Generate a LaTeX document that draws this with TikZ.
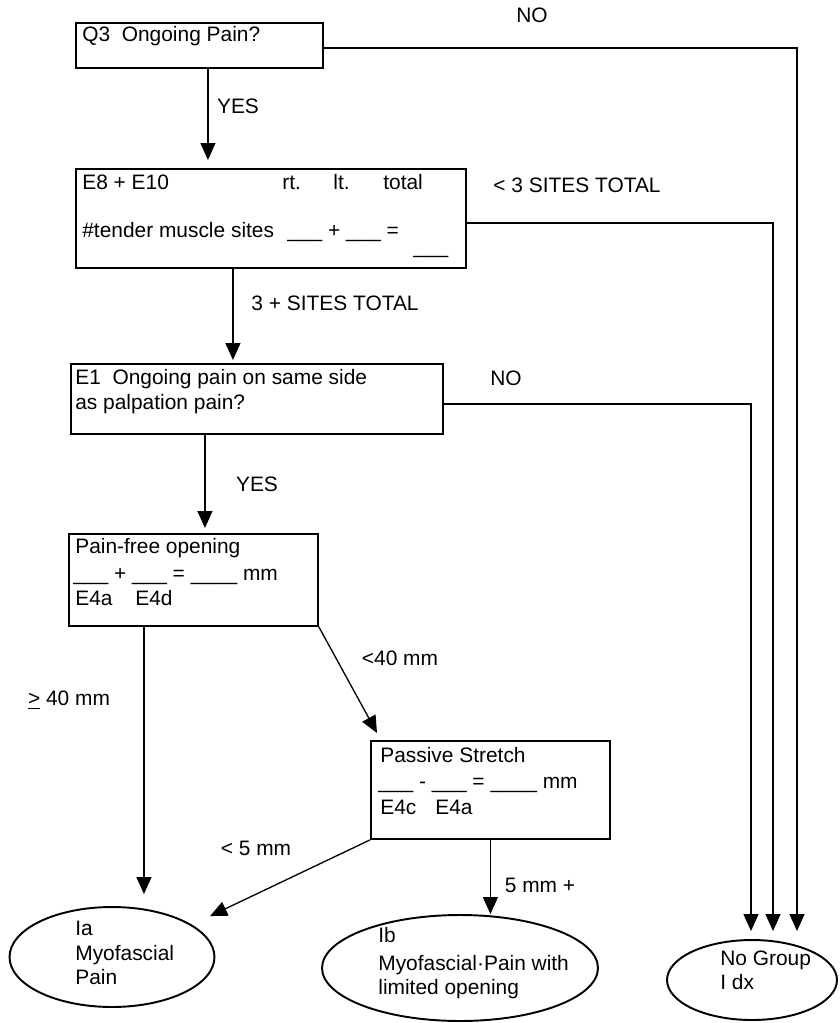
\documentclass[tikz,border=0pt]{standalone}
\usepackage{fontspec}
\setmainfont{Liberation Sans}
\usetikzlibrary{arrows.meta,shapes.geometric}

\begin{document}
\begin{tikzpicture}[x=0.02cm, y=-0.02cm, >={Triangle[length=0.34cm,width=0.3cm]},
  every node/.style={font=\fontsize{11.9}{14}\selectfont, inner sep=0pt},
  box/.style={draw, line width=1.1pt, anchor=north west},
  oval/.style={draw, ellipse, line width=1.1pt},
  flow/.style={->, line width=0.75pt},
  txt/.style={anchor=base west}]
  \useasboundingbox (0,0) rectangle (839,1023);

  \node[box, minimum width=4.94cm, minimum height=0.9cm] (q3) at (75,22) {};
  \node[box, minimum width=7.8cm, minimum height=1.98cm] (e8) at (75,168) {};
  \node[box, minimum width=7.44cm, minimum height=1.4cm] (e1) at (70,363) {};
  \node[box, minimum width=4.98cm, minimum height=1.84cm] (pf) at (68,533) {};
  \node[box, minimum width=4.78cm, minimum height=1.96cm] (ps) at (370,740) {};
  \node[oval, minimum width=4.1cm, minimum height=2cm] (ia) at (112,957) {};
  \node[oval, minimum width=5.52cm, minimum height=2.12cm] (ib) at (460,968) {};
  \node[oval, minimum width=3.4cm, minimum height=1.6cm] (nog) at (752,980) {};

  \node[txt] (q3t) at (82,42) {Q3\ \ Ongoing Pain?};
  \node[txt] (e8a) at (82,190) {E8 + E10};
  \node[txt] (e8rt) at (282,190) {rt.};
  \node[txt] (e8lt) at (333,190) {lt.};
  \node[txt] (e8tot) at (383,190) {total};
  \node[txt] (e8b) at (82,238) {\#tender muscle sites};
  \node[txt] (e8sum) at (287,238) {\_\_\_ + \_\_\_ =};
  \node[txt] (e8res) at (413,254) {\_\_\_};
  \node[txt] (e1a) at (75,384) {E1\ \ Ongoing pain on same side};
  \node[txt] (e1b) at (75,409) {as palpation pain?};
  \node[txt] (pfa) at (75,553) {Pain-free opening};
  \node[txt] (pfb) at (73,580) {\_\_\_ + \_\_\_ = \_\_\_\_ mm};
  \node[txt] (pfc) at (75,605) {E4a};
  \node[txt] (pfd) at (135,605) {E4d};
  \node[txt] (psa) at (380,762) {Passive Stretch};
  \node[txt] (psb) at (378,788) {\_\_\_ - \_\_\_ = \_\_\_\_ mm};
  \node[txt] (psc) at (380,814) {E4c};
  \node[txt] (psd) at (435,814) {E4a};
  \node[txt] (iaa) at (75,935) {Ia};
  \node[txt] (iab) at (75,960) {Myofascial};
  \node[txt] (iac) at (75,984) {Pain};
  \node[txt] (iba) at (378,942) {Ib};
  \node[txt] (ibb) at (378,970) {Myofascial·Pain with};
  \node[txt] (ibc) at (378,994) {limited opening};
  \node[txt] (noa) at (720,965) {No Group};
  \node[txt] (nob) at (720,989) {I dx};

  \node (no1) at (532,15) {NO};
  \node (yes1) at (238,106) {YES};
  \node (few) at (577,185) {< 3 SITES TOTAL};
  \node (many) at (335,303) {3 + SITES TOTAL};
  \node (no2) at (506,378) {NO};
  \node (yes2) at (257,484) {YES};
  \node (lt40) at (400,658) {<40 mm};
  \node (ge40) at (69,700) {\underline{>} 40 mm};
  \node (lt5) at (256,848) {< 5 mm};
  \node (ge5) at (540,885) {5 mm +};

  \draw[flow, shorten >=0.16cm] ([xshift=0.17cm]q3.south) coordinate (s1) -- (s1 |- e8.north);
  \draw[flow, shorten >=0.06cm] ([xshift=-0.76cm]e8.south) coordinate (s2) -- (s2 |- e1.north);
  \draw[flow, shorten >=0.1cm] ([xshift=-1.04cm]e1.south) coordinate (s3) -- (s3 |- pf.north);
  \draw[flow, shorten >=0.24cm] ([xshift=-0.99cm]pf.south) coordinate (s4) -- (s4 |- ia.north);
  \draw[flow] (pf.south east) -- ([xshift=0.14cm,yshift=0.14cm]ps.north west);
  \draw[flow] (ps.south) -- (ps.south |- ib.north);
  \draw[flow, shorten >=0.4cm] (ps.south west) -- (ia.22);
  \draw[flow, shorten >=0.16cm] ([yshift=-0.05cm]q3.east) -| ([xshift=0.9cm]nog.north);
  \draw[flow, shorten >=0.16cm] ([yshift=-0.09cm]e8.east) -| ([xshift=0.42cm]nog.north);
  \draw[flow, shorten >=0.16cm] ([yshift=-0.1cm]e1.east) -| ([xshift=-0.02cm]nog.north);
\end{tikzpicture}
\end{document}
